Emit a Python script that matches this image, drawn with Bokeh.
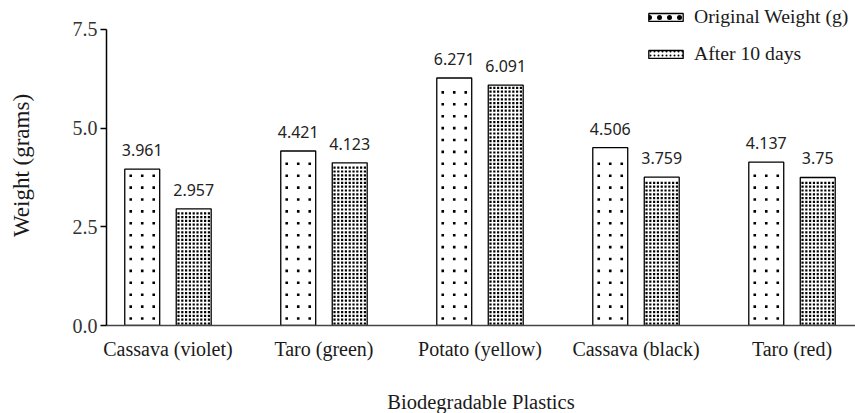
import numpy as np
from bokeh.plotting import figure
from bokeh.models import ColumnDataSource, FixedTicker, Legend, LegendItem, LabelSet
from bokeh.core.properties import value
from bokeh.embed import file_html
from bokeh.resources import INLINE

categories = ["Cassava (violet)", "Taro (green)", "Potato (yellow)", "Cassava (black)", "Taro (red)"]
original = [3.961, 4.421, 6.271, 4.506, 4.137]
after = [2.957, 4.123, 6.091, 3.759, 3.75]
original_labels = ["3.961", "4.421", "6.271", "4.506", "4.137"]
after_labels = ["2.957", "4.123", "6.091", "3.759", "3.75"]
y_ticks = [0, 2.5, 5.0, 7.5]
y_tick_labels = ["0.0", "2.5", "5.0", "7.5"]

idx = list(range(len(categories)))
off = 0.165
bw = 0.224

FW, FH = 749, 320
XR = (-0.394, 4.407)
YR = (0, 8.108)
ppx = FW / (XR[1] - XR[0])
ppy = FH / (YR[1] - YR[0])

src_o = ColumnDataSource(dict(x=[i - off for i in idx], top=original, lab=original_labels))
src_a = ColumnDataSource(dict(x=[i + off for i in idx], top=after, lab=after_labels))


def dot_fill(centers, tops, cols_px, step_px, bottom_px, top_gap_px):
    xs, ys = [], []
    for c, t in zip(centers, tops):
        top_px = t * ppy - top_gap_px
        rows = np.arange(bottom_px, top_px + 0.01, step_px)
        for dx in cols_px:
            xs.extend([c + dx / ppx] * len(rows))
            ys.extend(list(rows / ppy))
    return ColumnDataSource(dict(x=xs, y=ys))


p = figure(output_backend="svg", toolbar_location=None,
           frame_width=FW, frame_height=FH,
           min_border_left=106, min_border_right=0, min_border_top=5, min_border_bottom=88,
           x_range=XR, y_range=YR)
p.width = 855
p.height = 413

p.vbar(x="x", top="top", width=bw, source=src_o, fill_color="white",
       line_color="black", line_width=1.3)
p.vbar(x="x", top="top", width=bw, source=src_a, fill_color="white",
       line_color="black", line_width=1.3)

sparse_src = dot_fill(src_o.data["x"], original, [-11.5, 0, 11.5], 11.9, 7, 5)
dense_src = dot_fill(src_a.data["x"], after, [k * 3.8 for k in range(-4, 5)], 3.8, 2, 2)
p.scatter(x="x", y="y", source=sparse_src, marker="square", size=2.6,
          fill_color="black", line_color=None)
p.scatter(x="x", y="y", source=dense_src, marker="square", size=2.2,
          fill_color="black", line_color=None)

# legend-only renderers (hidden on the plot, shown in the legend)
lr_o = p.vbar(x="x", top="top", width=bw, source=src_o, fill_color="white",
              line_color="black", line_width=1.3,
              hatch_pattern="dot", hatch_scale=10, hatch_weight=1, hatch_color="black",
              visible=False)
lr_a = p.vbar(x="x", top="top", width=bw, source=src_a, fill_color="white",
              line_color="black", line_width=1.3,
              hatch_pattern="dot", hatch_scale=4, hatch_weight=1.5, hatch_color="black",
              visible=False)

for s in (src_o, src_a):
    p.add_layout(LabelSet(x="x", y="top", text="lab", source=s, text_align="center",
                          text_baseline="bottom", y_offset=13, text_font=value("Noto Sans"),
                          text_font_size="16px", text_color="#222222"))

p.grid.visible = False
p.outline_line_color = None
p.background_fill_color = "white"
p.border_fill_color = "white"

xa = p.xaxis[0]
xa.ticker = FixedTicker(ticks=idx)
xa.major_label_overrides = {i: c for i, c in zip(idx, categories)}
xa.major_tick_line_color = None
xa.minor_tick_line_color = None
xa.major_label_standoff = 6
xa.major_label_text_font = "Liberation Serif"
xa.major_label_text_font_size = "20px"
xa.major_label_text_color = "#1a1a1a"
xa.axis_line_color = "#444444"
xa.axis_line_width = 1.5
xa.axis_label = "Biodegradable Plastics"
xa.axis_label_text_font = "Liberation Serif"
xa.axis_label_text_font_size = "20.5px"
xa.axis_label_text_font_style = "normal"
xa.axis_label_text_color = "#1a1a1a"
xa.axis_label_standoff = 28

ya = p.yaxis[0]
ya.ticker = FixedTicker(ticks=y_ticks)
ya.major_label_overrides = {t: l for t, l in zip(y_ticks, y_tick_labels)}
ya.bounds = (0, 7.5)
ya.minor_tick_line_color = None
ya.major_tick_out = 6
ya.major_tick_in = 0
ya.major_tick_line_color = "black"
ya.major_tick_line_width = 1.3
ya.major_label_standoff = 3
ya.major_label_text_font = "Liberation Serif"
ya.major_label_text_font_size = "20px"
ya.major_label_text_color = "#333333"
ya.axis_line_color = "black"
ya.axis_line_width = 1.5
ya.axis_label = "Weight (grams)"
ya.axis_label_text_font = "Liberation Serif"
ya.axis_label_text_font_size = "23px"
ya.axis_label_text_font_style = "normal"
ya.axis_label_text_color = "#1a1a1a"
ya.axis_label_standoff = 36

legend = Legend(items=[LegendItem(label="Original Weight (g)", renderers=[lr_o]),
                       LegendItem(label="After 10 days", renderers=[lr_a])],
                location="top_right", glyph_width=43, glyph_height=10,
                label_text_font="Liberation Serif", label_text_font_size="19.7px",
                label_text_color="#1a1a1a", label_standoff=7, spacing=14,
                label_width=161, padding=5, margin=0, border_line_color=None,
                background_fill_alpha=0, inactive_fill_alpha=0)
p.add_layout(legend)

open("out.html", "w").write(file_html(p, INLINE))
